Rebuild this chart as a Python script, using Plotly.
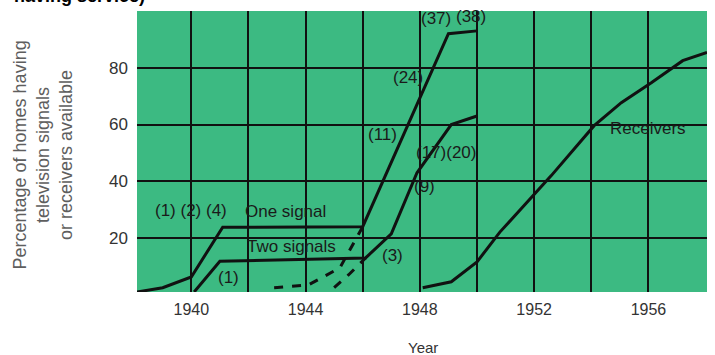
import plotly.graph_objects as go

# Percentage of homes having television signals / receivers, by year
one_signal_years = [1938.1, 1939, 1940, 1941.1, 1946, 1949, 1950]
one_signal_pct = [1, 2.5, 6.3, 23.8, 24, 92, 93]

one_signal_early_years = [1942.9, 1944.1, 1945.2, 1945.9, 1946]
one_signal_early_pct = [2.5, 3.5, 9.5, 21.8, 24]

two_signal_years = [1940.1, 1941, 1946.1, 1947, 1947.9, 1949.1, 1950]
two_signal_pct = [1, 11.8, 13, 21.5, 43, 60, 63]

two_signal_early_years = [1945, 1945.5, 1946.1]
two_signal_early_pct = [2.5, 7, 13]

receivers_years = [1948.1, 1949.1, 1950, 1950.8, 1952.6, 1954.1, 1955.05, 1956.1, 1957.2, 1958.05]
receivers_pct = [2.5, 4.6, 11.6, 22.1, 42, 59.6, 67.7, 74.7, 82.5, 85.4]

# station counts and labels: (text, year, pct)
labels = [
    ("(1) (2) (4)", 1940.0, 29.8),
    ("One signal", 1943.3, 29.2),
    ("Two signals", 1943.5, 16.9),
    ("(1)", 1941.3, 6.0),
    ("(3)", 1947.05, 13.7),
    ("(9)", 1948.15, 38.0),
    ("(17)(20)", 1948.9, 50.3),
    ("(11)", 1946.7, 56.5),
    ("(24)", 1947.6, 76.6),
    ("(37)", 1948.55, 97.3),
    ("(38)", 1949.8, 97.9),
    ("Receivers", 1956.0, 58.6),
]

xgrid = [1940, 1942, 1944, 1946, 1948, 1950, 1952, 1954, 1956]
xtext = ["1940", "", "1944", "", "1948", "", "1952", "", "1956"]

BLACK = "#111111"
GREEN = "#3cba82"

fig = go.Figure()

fig.add_trace(go.Scatter(x=one_signal_years, y=one_signal_pct, mode="lines",
                         line=dict(color=BLACK, width=3)))
fig.add_trace(go.Scatter(x=one_signal_early_years, y=one_signal_early_pct, mode="lines",
                         line=dict(color=BLACK, width=3, dash="dash")))
fig.add_trace(go.Scatter(x=two_signal_years, y=two_signal_pct, mode="lines",
                         line=dict(color=BLACK, width=3)))
fig.add_trace(go.Scatter(x=two_signal_early_years, y=two_signal_early_pct, mode="lines",
                         line=dict(color=BLACK, width=3, dash="dash")))
fig.add_trace(go.Scatter(x=receivers_years, y=receivers_pct, mode="lines",
                         line=dict(color=BLACK, width=3)))

for txt, xx, yy in labels:
    fig.add_annotation(x=xx, y=yy, text=txt, showarrow=False,
                       font=dict(family="Liberation Sans, Arial", size=17, color="#1a1a1a"))

# y axis title (three lines, rotated)
fig.add_annotation(xref="paper", yref="paper", x=0, y=0.5, xshift=-94, yshift=-4,
                   text="Percentage of homes having<br>television signals<br>or receivers available",
                   textangle=-90, showarrow=False, xanchor="center", yanchor="middle",
                   font=dict(family="Liberation Sans, Arial", size=18, color="#5e5e5e"))

# x axis title
fig.add_annotation(xref="paper", yref="paper", x=0.502, y=0, yshift=-55,
                   text="Year", showarrow=False, yanchor="middle",
                   font=dict(family="Liberation Sans, Arial", size=15, color="#333333"))

# cut-off title at the very top
fig.add_annotation(xref="paper", yref="paper", x=0, y=1, xshift=-125, yshift=15,
                   text="<b>having service)</b>", showarrow=False,
                   xanchor="left", yanchor="middle",
                   font=dict(family="Liberation Sans, Arial", size=18, color="#000000"))

fig.update_layout(
    width=715, height=355,
    margin=dict(l=137, r=8, t=11, b=63),
    paper_bgcolor="white",
    plot_bgcolor=GREEN,
    showlegend=False,
    xaxis=dict(range=[1938.1, 1958.05], tickvals=xgrid, ticktext=xtext,
               showgrid=True, gridcolor=BLACK, gridwidth=1.5, zeroline=False,
               ticks="", ticklabelstandoff=6,
               tickfont=dict(family="Liberation Sans, Arial", size=16, color="#333333")),
    yaxis=dict(range=[1, 100], tickvals=[20, 40, 60, 80, 100], ticktext=["20", "40", "60", "80", ""],
               showgrid=True, gridcolor=BLACK, gridwidth=1.5, zeroline=False,
               ticks="", ticklabelstandoff=8,
               tickfont=dict(family="Liberation Sans, Arial", size=17, color="#333333")),
)

fig.write_html("out.html", config={"displayModeBar": False},
               post_script="document.body.style.margin='0';")
